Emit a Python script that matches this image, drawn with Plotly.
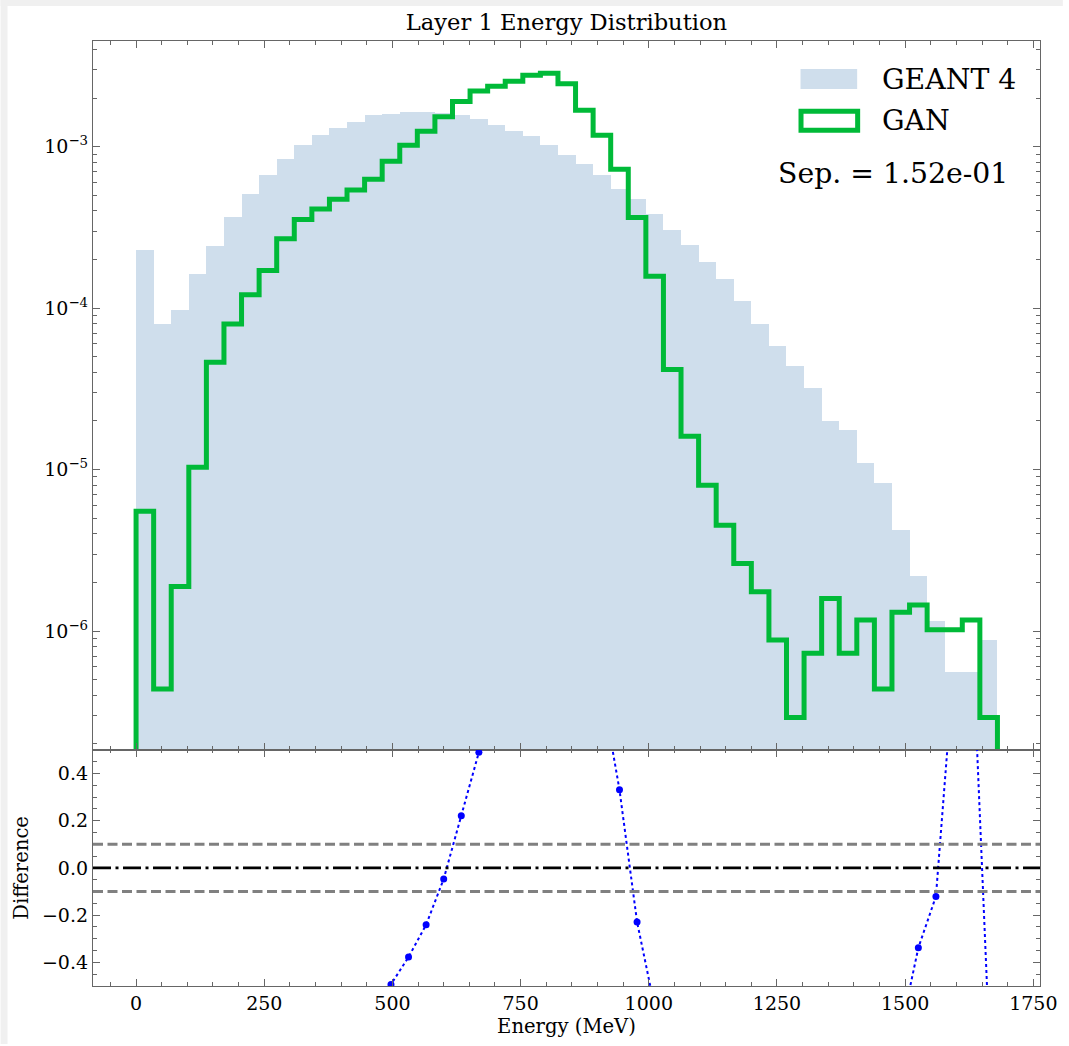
import numpy as np
import plotly.graph_objects as go

# ---------------- data ----------------
bin_edges = np.linspace(0, 1680, 50)  # 49 bins (MeV)

geant4 = [2.28e-4, 7.98e-5, 9.73e-5, 1.63e-4, 2.44e-4, 3.67e-4, 5.07e-4, 6.68e-4, 8.38e-4, 1.019e-3,
          1.175e-3, 1.303e-3, 1.427e-3, 1.567e-3, 1.600e-3, 1.637e-3, 1.637e-3, 1.607e-3, 1.561e-3, 1.482e-3,
          1.368e-3, 1.248e-3, 1.170e-3, 1.019e-3, 8.84e-4, 7.85e-4, 6.68e-4, 5.45e-4, 4.72e-4, 3.83e-4,
          3.05e-4, 2.47e-4, 1.92e-4, 1.514e-4, 1.107e-4, 7.98e-5, 5.86e-5, 4.41e-5, 3.21e-5, 1.986e-5,
          1.765e-5, 1.104e-5, 8.3e-6, 4.21e-6, 2.19e-6, 1.16e-6, 5.55e-7, 5.55e-7, 8.76e-7]

gan = [5.52e-6, 4.38e-7, 1.89e-6, 1.033e-5, 4.62e-5, 7.98e-5, 1.21e-4, 1.71e-4, 2.69e-4, 3.54e-4,
       4.11e-4, 4.72e-4, 5.39e-4, 6.28e-4, 8.11e-4, 1.019e-3, 1.243e-3, 1.532e-3, 1.905e-3, 2.207e-3,
       2.368e-3, 2.543e-3, 2.770e-3, 2.850e-3, 2.450e-3, 1.680e-3, 1.175e-3, 7.25e-4, 3.64e-4, 1.572e-4,
       4.16e-5, 1.61e-5, 7.99e-6, 4.52e-6, 2.62e-6, 1.75e-6, 8.8e-7, 2.92e-7, 7.28e-7, 1.59e-6,
       7.28e-7, 1.17e-6, 4.38e-7, 1.306e-6, 1.449e-6, 1.02e-6, 1.02e-6, 1.17e-6, 2.92e-7]

separation_text = "Sep. = 1.52e-01"
x_tick_vals = [0, 250, 500, 750, 1000, 1250, 1500, 1750]
log_tick_vals = [1e-6, 1e-5, 1e-4, 1e-3]
log_tick_text = ["10<sup>\u22126</sup>", "10<sup>\u22125</sup>", "10<sup>\u22124</sup>", "10<sup>\u22123</sup>"]

# ---------------- derived ----------------
edges = np.asarray(bin_edges)
geant_arr = np.asarray(geant4)
gan_arr = np.asarray(gan)
centers = 0.5 * (edges[:-1] + edges[1:])
bw = edges[1] - edges[0]
difference = (gan_arr - geant_arr) / geant_arr

floor = 1e-9
step_x = np.concatenate([[edges[0]], edges, [edges[-1]]])
step_y = np.concatenate([[floor], gan_arr, [gan_arr[-1]], [floor]])

minor_log = [k * 10.0 ** p for p in range(-7, -2) for k in range(2, 10)]

FONT = "DejaVu Serif"
AX = "#666666"
GREEN = "#00BA38"
BLUE_FILL = "#cfdeec"

W, H = 1069, 1046
LEFT, RIGHT = 93, 1046      # pixel columns of the axes frame
TOP, BOT = 41, 988          # pixel rows of the axes frame
PW = RIGHT - LEFT
PH = BOT - TOP

fig = go.Figure()
fig.add_trace(go.Bar(x=centers, y=geant_arr, width=bw, marker=dict(color=BLUE_FILL, line=dict(width=0)),
                     name="GEANT 4", xaxis="x", yaxis="y", showlegend=False))
fig.add_trace(go.Scatter(x=step_x, y=step_y, mode="lines", line=dict(color=GREEN, width=5, shape="hv"),
                         name="GAN", xaxis="x", yaxis="y", showlegend=False))
fig.add_trace(go.Scatter(x=centers, y=difference, mode="lines+markers",
                         line=dict(color="blue", width=2, dash="dot"),
                         marker=dict(color="blue", size=7), name="Difference",
                         xaxis="x2", yaxis="y2", showlegend=False))

common_x = dict(range=[-84, 1763], tickmode="array", tickvals=x_tick_vals, ticks="inside", ticklen=7,
                tickwidth=1.2, tickcolor=AX, showline=True, linecolor=AX, linewidth=1.3,
                mirror="allticks", showgrid=False, zeroline=False, ticklabeloverflow="allow",
                minor=dict(ticks="inside", ticklen=3.5, tickwidth=1, tickcolor=AX, dtick=50, tick0=0,
                           showgrid=False),
                tickfont=dict(family=FONT, size=19, color="black"))

fig.update_layout(
    width=W, height=H,
    margin=dict(l=LEFT, r=W - RIGHT, t=TOP, b=H - BOT),
    paper_bgcolor="white", plot_bgcolor="white",
    bargap=0,
    font=dict(family=FONT, color="black"),
    title=dict(text="Layer 1 Energy Distribution", x=0.5, xref="paper", xanchor="center",
               y=(H - 22.5) / H, yref="container", yanchor="middle",
               font=dict(family=FONT, size=22.6, color="black")),
    xaxis=dict(domain=[0, 1], anchor="y", showticklabels=False, **common_x),
    yaxis=dict(domain=[0.25, 1], anchor="x", type="log", range=[-6.735, -2.346],
               tickmode="array", tickvals=log_tick_vals, ticktext=log_tick_text,
               ticks="inside", ticklen=7, tickwidth=1.2, tickcolor=AX,
               showline=True, linecolor=AX, linewidth=1.3, mirror="allticks",
               showgrid=False, zeroline=False,
               minor=dict(ticks="inside", ticklen=3.5, tickwidth=1, tickcolor=AX,
                          tickmode="array", tickvals=minor_log, showgrid=False),
               tickfont=dict(family=FONT, size=19, color="black")),
    xaxis2=dict(domain=[0, 1], anchor="y2", showticklabels=True,
                title=dict(text="Energy (MeV)", font=dict(family=FONT, size=19.6, color="black"), standoff=6),
                **common_x),
    yaxis2=dict(domain=[0, 0.25], anchor="x2", range=[-0.5, 0.5], tickmode="linear", tick0=0, dtick=0.2,
                tickformat=".1f", ticks="inside", ticklen=7, tickwidth=1.2, tickcolor=AX,
                showline=True, linecolor=AX, linewidth=1.3, mirror="allticks",
                showgrid=False, zeroline=False,
                minor=dict(ticks="inside", ticklen=3.5, tickwidth=1, tickcolor=AX, dtick=0.05, tick0=0,
                           showgrid=False),
                title=dict(text="Difference", font=dict(family=FONT, size=19.6, color="black"), standoff=8),
                tickfont=dict(family=FONT, size=19, color="black")),
)

def py(p):
    """paper y for a pixel row"""
    return (BOT - p) / PH

def px(p):
    """paper x for a pixel column"""
    return (p - LEFT) / PW

# reference lines in the difference panel
fig.add_shape(type="line", xref="x2 domain", yref="y2", x0=0, x1=1, y0=0.1, y1=0.1,
              line=dict(color="gray", width=2.8, dash="10px,4.5px"))
fig.add_shape(type="line", xref="x2 domain", yref="y2", x0=0, x1=1, y0=-0.1, y1=-0.1,
              line=dict(color="gray", width=2.8, dash="10px,4.5px"))
fig.add_shape(type="line", xref="x2 domain", yref="y2", x0=0, x1=1, y0=0, y1=0,
              line=dict(color="black", width=2.8, dash="18px,4.5px,3px,4.5px"))

# manual legend (large patches as in the reference)
fig.add_shape(type="rect", xref="paper", yref="paper", x0=px(805), x1=px(862), y0=py(89), y1=py(69),
              fillcolor=BLUE_FILL, line=dict(width=0))
fig.add_shape(type="rect", xref="paper", yref="paper", x0=px(805.5), x1=px(862.5), y0=py(130.5), y1=py(111.5),
              fillcolor="rgba(0,0,0,0)", line=dict(color=GREEN, width=5))
fig.add_annotation(text="GEANT 4", xref="paper", yref="paper", x=px(885), y=py(79.3), xanchor="left",
                   yanchor="middle", showarrow=False, font=dict(family=FONT, size=28.3, color="black"))
fig.add_annotation(text="GAN", xref="paper", yref="paper", x=px(885), y=py(120.7), xanchor="left",
                   yanchor="middle", showarrow=False, font=dict(family=FONT, size=28.3, color="black"))
fig.add_annotation(text=separation_text, xref="paper", yref="paper", x=px(898.5), y=py(173.3),
                   xanchor="center", yanchor="middle", showarrow=False,
                   font=dict(family=FONT, size=28.3, color="black"))

# light grey frame strips at left/top of the page (as in the reference screenshot)
fig.add_shape(type="rect", xref="paper", yref="paper", x0=px(0), x1=px(7), y0=py(H), y1=py(0),
              fillcolor="#f0f0f0", line=dict(width=0), layer="below")
fig.add_shape(type="rect", xref="paper", yref="paper", x0=px(0), x1=px(W), y0=py(6), y1=py(0),
              fillcolor="#f0f0f0", line=dict(width=0), layer="below")

fig.write_html("out.html")
